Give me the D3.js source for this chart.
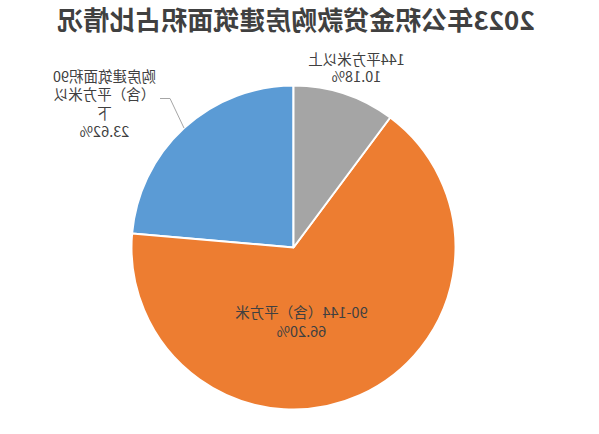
<!DOCTYPE html>
<html><head><meta charset="utf-8">
<script src="https://cdn.jsdelivr.net/npm/d3@7"></script>
<style>body{margin:0;background:#fff;}svg{display:block;}</style>
</head><body>
<svg id="chart" width="599" height="434"></svg>
<script>
const title = "2023年公积金贷款购房建筑面积占比情况";
const categories = ["购房建筑面积90（含）平方米以下", "90-144（含）平方米", "144平方米以上"];
const values = [23.62, 66.20, 10.18];
const colors = ["#5B9BD5", "#ED7D31", "#A5A5A5"];
const labelLines = [["购房建筑面积90", "（含）平方米以", "下"], ["90-144（含）平方米"], ["144平方米以上"]];

const W = 599, H = 434;
const svg = d3.select("#chart");
// The reference picture is horizontally mirrored
const root = svg.append("g").attr("transform", `translate(${W},0) scale(-1,1)`);
const font = "'Noto Sans CJK SC', 'Noto Sans', sans-serif";

root.append("text").attr("x", 303).attr("y", 30).attr("text-anchor", "middle")
  .attr("font-family", font).attr("font-weight", "bold").attr("font-size", 26)
  .attr("fill", "#404040").text(title);

const cx = 305.5, cy = 247.5, R = 162;
const pie = d3.pie().sort(null).value(d => d)(values);
const arc = d3.arc().innerRadius(0).outerRadius(R);
const g = root.append("g").attr("transform", `translate(${cx},${cy})`);
g.selectAll("path").data(pie).join("path")
  .attr("d", arc).attr("fill", (d, i) => colors[i])
  .attr("stroke", "#fff").attr("stroke-width", 2).attr("stroke-linejoin", "round");

// label positions (relative to centre)
const labelPos = [[189, -166], [-8, 70], [-63, -183]];
const lineH = [18.5, 19, 17];
pie.forEach((d, i) => {
  const lines = labelLines[i].concat([values[i].toFixed(2) + "%"]);
  const t = g.append("text").attr("text-anchor", "middle")
    .attr("font-family", font).attr("font-size", 14.5).attr("fill", "#404040");
  lines.forEach((s, k) => {
    t.append("tspan").attr("x", labelPos[i][0]).attr("y", labelPos[i][1] + k * lineH[i]).text(s);
  });
});

// leader line for first slice
const a0 = (pie[0].startAngle + pie[0].endAngle) / 2;
const px = R * Math.sin(a0), py = -R * Math.cos(a0);
const line = d3.line();
g.append("path").attr("d", line([[px, py], [px + 14, -149], [px + 24, -149]]))
  .attr("fill", "none").attr("stroke", "#A6A6A6").attr("stroke-width", 1);
</script>
</body></html>
